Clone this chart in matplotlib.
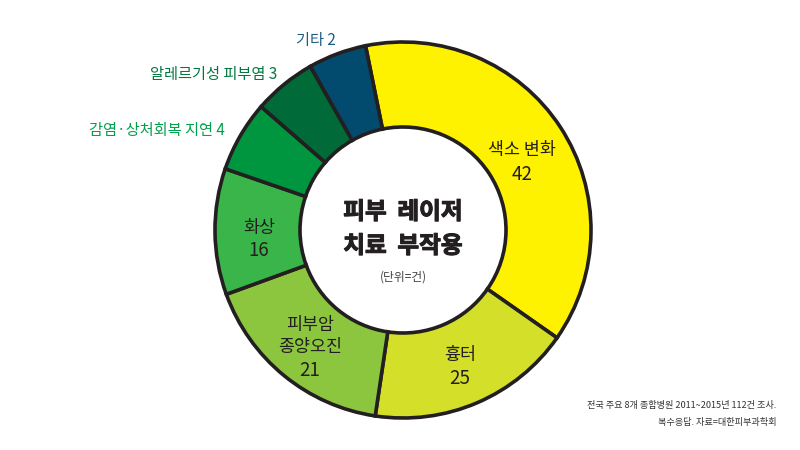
import matplotlib
matplotlib.use("Agg")
import matplotlib.pyplot as plt
import matplotlib.patheffects as pe

plt.rcParams['font.family'] = ['Noto Sans CJK KR', 'DejaVu Sans']

# Data
categories = ["색소 변화", "흉터", "피부암\n종양오진", "화상", "감염·상처회복 지연", "알레르기성 피부염", "기타"]
counts = [42, 25, 21, 16, 4, 3, 2]
# angular share of each slice as drawn in the reference (degrees; the graphic is not proportional)
drawn_share = [136.5, 63.5, 61.5, 39, 22, 19.5, 18]
colors = ["#FFF200", "#D4DF2A", "#8CC63F", "#3AB54A", "#009640", "#006A38", "#034B6E"]

fig = plt.figure(figsize=(8, 4.5), dpi=100)
ax = fig.add_axes([0, 0, 1, 1])

cx, cy = 403, 450 - 230
R = 188
W = 85

ax.pie(drawn_share, colors=colors, startangle=101.5, counterclock=False,
       center=(cx, cy), radius=R, frame=True,
       wedgeprops=dict(width=W, edgecolor="#231F20", linewidth=2.6))
ax.set_xlim(0, 800)
ax.set_ylim(0, 450)
ax.set_aspect('equal')
ax.axis('off')

def Y(y):
    return 450 - y

inside = "#231F20"
fs_in = 12.5
# inside labels
ax.text(522, Y(150), categories[0], ha='center', va='center', fontsize=fs_in, color=inside)
ax.text(522, Y(174), str(counts[0]), ha='center', va='center', fontsize=fs_in + 1, color=inside)
ax.text(460, Y(355), categories[1], ha='center', va='center', fontsize=fs_in, color=inside)
ax.text(460, Y(378), str(counts[1]), ha='center', va='center', fontsize=fs_in + 1, color=inside)
ax.text(310, Y(336), categories[2], ha='center', va='center', fontsize=fs_in, color=inside, linespacing=1.3)
ax.text(310, Y(370), str(counts[2]), ha='center', va='center', fontsize=fs_in + 1, color=inside)
ax.text(259, Y(228), categories[3], ha='center', va='center', fontsize=fs_in, color=inside)
ax.text(259, Y(251), str(counts[3]), ha='center', va='center', fontsize=fs_in + 1, color=inside)

# outside labels
ax.text(157, Y(130), f"{categories[4]} {counts[4]}", ha='center', va='center', fontsize=11, color="#00A14B")
ax.text(214, Y(75), f"{categories[5]} {counts[5]}", ha='center', va='center', fontsize=11, color="#00783E")
ax.text(316, Y(40), f"{categories[6]} {counts[6]}", ha='center', va='center', fontsize=11, color="#1D5D84")

# center title
heavy = [pe.withStroke(linewidth=0.8, foreground="#231F20")]
ax.text(cx, Y(212), "피부  레이저", ha='center', va='center', fontsize=17, fontweight='bold',
        color="#231F20", path_effects=heavy)
ax.text(cx, Y(246), "치료  부작용", ha='center', va='center', fontsize=17, fontweight='bold',
        color="#231F20", path_effects=heavy)
ax.text(cx, Y(277), "(단위=건)", ha='center', va='center', fontsize=8.5, color="#444444")

# footnote
ax.text(776, Y(405), "전국 주요 8개 종합병원 2011~2015년 112건 조사.", ha='right', va='center', fontsize=6.6, color="#333333")
ax.text(776, Y(423), "복수응답. 자료=대한피부과학회", ha='right', va='center', fontsize=6.6, color="#333333")

fig.savefig("out.png", dpi=100)
